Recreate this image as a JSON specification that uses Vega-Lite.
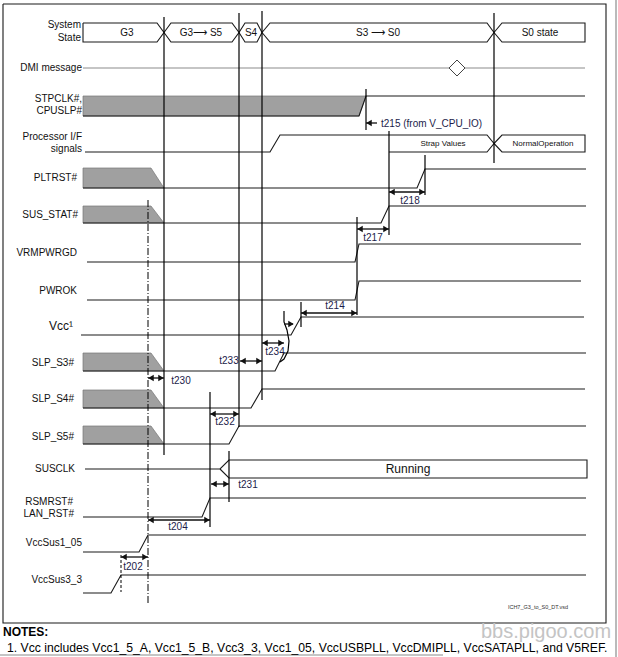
{
  "$schema": "https://vega.github.io/schema/vega-lite/v6.json",
  "width": 618,
  "height": 657,
  "padding": 0,
  "autosize": {"type": "none"},
  "background": "white",
  "config": {"view": {"stroke": null}, "font": "Liberation Sans"},
  "datasets": {
    "waves": [
      {"s": "G3", "o": 1, "x": 83, "y": 23}, {"s": "G3", "o": 2, "x": 157, "y": 23}, {"s": "G3", "o": 3, "x": 164, "y": 32.5}, {"s": "G3", "o": 4, "x": 157, "y": 42}, {"s": "G3", "o": 5, "x": 83, "y": 42}, {"s": "G3", "o": 6, "x": 83, "y": 23},
      {"s": "G3S5", "o": 1, "x": 164, "y": 32.5}, {"s": "G3S5", "o": 2, "x": 171, "y": 23}, {"s": "G3S5", "o": 3, "x": 232, "y": 23}, {"s": "G3S5", "o": 4, "x": 239, "y": 32.5}, {"s": "G3S5", "o": 5, "x": 232, "y": 42}, {"s": "G3S5", "o": 6, "x": 171, "y": 42}, {"s": "G3S5", "o": 7, "x": 164, "y": 32.5},
      {"s": "S4", "o": 1, "x": 239, "y": 32.5}, {"s": "S4", "o": 2, "x": 245, "y": 23}, {"s": "S4", "o": 3, "x": 257, "y": 23}, {"s": "S4", "o": 4, "x": 262, "y": 32.5}, {"s": "S4", "o": 5, "x": 257, "y": 42}, {"s": "S4", "o": 6, "x": 245, "y": 42}, {"s": "S4", "o": 7, "x": 239, "y": 32.5},
      {"s": "S3S0", "o": 1, "x": 262, "y": 32.5}, {"s": "S3S0", "o": 2, "x": 270, "y": 23}, {"s": "S3S0", "o": 3, "x": 487, "y": 23}, {"s": "S3S0", "o": 4, "x": 494, "y": 32.5}, {"s": "S3S0", "o": 5, "x": 487, "y": 42}, {"s": "S3S0", "o": 6, "x": 270, "y": 42}, {"s": "S3S0", "o": 7, "x": 262, "y": 32.5},
      {"s": "S0", "o": 1, "x": 494, "y": 32.5}, {"s": "S0", "o": 2, "x": 502, "y": 23}, {"s": "S0", "o": 3, "x": 585, "y": 23}, {"s": "S0", "o": 4, "x": 585, "y": 42}, {"s": "S0", "o": 5, "x": 502, "y": 42}, {"s": "S0", "o": 6, "x": 494, "y": 32.5},
      {"s": "STP", "o": 1, "x": 83, "y": 116}, {"s": "STP", "o": 2, "x": 359, "y": 116}, {"s": "STP", "o": 3, "x": 366, "y": 96}, {"s": "STP", "o": 4, "x": 585, "y": 96},
      {"s": "PIF", "o": 1, "x": 85, "y": 152}, {"s": "PIF", "o": 2, "x": 270, "y": 152}, {"s": "PIF", "o": 3, "x": 280, "y": 135}, {"s": "PIF", "o": 4, "x": 389, "y": 135},
      {"s": "STRAP", "o": 1, "x": 389, "y": 135}, {"s": "STRAP", "o": 2, "x": 487, "y": 135}, {"s": "STRAP", "o": 3, "x": 494, "y": 143.5}, {"s": "STRAP", "o": 4, "x": 487, "y": 152}, {"s": "STRAP", "o": 5, "x": 389, "y": 152},
      {"s": "NORM", "o": 1, "x": 494, "y": 143.5}, {"s": "NORM", "o": 2, "x": 502, "y": 135}, {"s": "NORM", "o": 3, "x": 585, "y": 135}, {"s": "NORM", "o": 4, "x": 585, "y": 152}, {"s": "NORM", "o": 5, "x": 502, "y": 152}, {"s": "NORM", "o": 6, "x": 494, "y": 143.5},
      {"s": "PLT", "o": 1, "x": 83, "y": 188}, {"s": "PLT", "o": 2, "x": 417, "y": 188}, {"s": "PLT", "o": 3, "x": 425, "y": 169}, {"s": "PLT", "o": 4, "x": 586, "y": 169},
      {"s": "SUS", "o": 1, "x": 83, "y": 223}, {"s": "SUS", "o": 2, "x": 381, "y": 223}, {"s": "SUS", "o": 3, "x": 389, "y": 206}, {"s": "SUS", "o": 4, "x": 586, "y": 206},
      {"s": "VRM", "o": 1, "x": 87, "y": 262}, {"s": "VRM", "o": 2, "x": 355, "y": 262}, {"s": "VRM", "o": 3, "x": 359, "y": 244}, {"s": "VRM", "o": 4, "x": 581, "y": 244},
      {"s": "PWR", "o": 1, "x": 87, "y": 300}, {"s": "PWR", "o": 2, "x": 355, "y": 300}, {"s": "PWR", "o": 3, "x": 359, "y": 281}, {"s": "PWR", "o": 4, "x": 581, "y": 281},
      {"s": "VCC", "o": 1, "x": 81, "y": 335}, {"s": "VCC", "o": 2, "x": 291, "y": 335}, {"s": "VCC", "o": 3, "x": 301, "y": 317}, {"s": "VCC", "o": 4, "x": 584, "y": 317},
      {"s": "SS3", "o": 1, "x": 83, "y": 371}, {"s": "SS3", "o": 2, "x": 275, "y": 371}, {"s": "SS3", "o": 3, "x": 284, "y": 353}, {"s": "SS3", "o": 4, "x": 586, "y": 353},
      {"s": "SS4", "o": 1, "x": 83, "y": 408}, {"s": "SS4", "o": 2, "x": 251, "y": 408}, {"s": "SS4", "o": 3, "x": 262, "y": 389}, {"s": "SS4", "o": 4, "x": 585, "y": 389},
      {"s": "SS5", "o": 1, "x": 83, "y": 444}, {"s": "SS5", "o": 2, "x": 229, "y": 444}, {"s": "SS5", "o": 3, "x": 239, "y": 426}, {"s": "SS5", "o": 4, "x": 586, "y": 426},
      {"s": "CLK", "o": 1, "x": 85, "y": 469}, {"s": "CLK", "o": 2, "x": 220, "y": 469}, {"s": "CLK", "o": 3, "x": 229, "y": 460}, {"s": "CLK", "o": 4, "x": 587, "y": 460}, {"s": "CLK", "o": 5, "x": 587, "y": 478}, {"s": "CLK", "o": 6, "x": 229, "y": 478}, {"s": "CLK", "o": 7, "x": 220, "y": 469},
      {"s": "RSM", "o": 1, "x": 83, "y": 517}, {"s": "RSM", "o": 2, "x": 202, "y": 517}, {"s": "RSM", "o": 3, "x": 210, "y": 498}, {"s": "RSM", "o": 4, "x": 586, "y": 498},
      {"s": "V105", "o": 1, "x": 83, "y": 552}, {"s": "V105", "o": 2, "x": 139, "y": 552}, {"s": "V105", "o": 3, "x": 148, "y": 535}, {"s": "V105", "o": 4, "x": 586, "y": 535},
      {"s": "V33", "o": 1, "x": 83, "y": 593}, {"s": "V33", "o": 2, "x": 111, "y": 593}, {"s": "V33", "o": 3, "x": 121, "y": 575}, {"s": "V33", "o": 4, "x": 586, "y": 575},
      {"s": "FRAME", "o": 1, "x": 3, "y": 4}, {"s": "FRAME", "o": 2, "x": 606, "y": 4}, {"s": "FRAME", "o": 3, "x": 606, "y": 623}, {"s": "FRAME", "o": 4, "x": 3, "y": 623}, {"s": "FRAME", "o": 5, "x": 3, "y": 4}
    ],
    "fills": [
      {"s": "STP", "x": 83, "y": 96, "y2": 116}, {"s": "STP", "x": 359, "y": 96, "y2": 116}, {"s": "STP", "x": 366, "y": 96, "y2": 96},
      {"s": "PLT", "x": 83, "y": 168, "y2": 188}, {"s": "PLT", "x": 151, "y": 168, "y2": 188}, {"s": "PLT", "x": 164, "y": 188, "y2": 188},
      {"s": "SUS", "x": 83, "y": 206, "y2": 223}, {"s": "SUS", "x": 151, "y": 206, "y2": 223}, {"s": "SUS", "x": 164, "y": 223, "y2": 223},
      {"s": "SS3", "x": 83, "y": 353, "y2": 371}, {"s": "SS3", "x": 151, "y": 353, "y2": 371}, {"s": "SS3", "x": 164, "y": 371, "y2": 371},
      {"s": "SS4", "x": 83, "y": 390, "y2": 408}, {"s": "SS4", "x": 151, "y": 390, "y2": 408}, {"s": "SS4", "x": 164, "y": 408, "y2": 408},
      {"s": "SS5", "x": 83, "y": 426, "y2": 444}, {"s": "SS5", "x": 151, "y": 426, "y2": 444}, {"s": "SS5", "x": 164, "y": 444, "y2": 444}
    ],
    "greys": [
      {"s": "DMI", "o": 1, "x": 83, "y": 68}, {"s": "DMI", "o": 2, "x": 585, "y": 68},
      {"s": "EDGE", "o": 1, "x": 616, "y": 0}, {"s": "EDGE", "o": 2, "x": 616, "y": 657},
      {"s": "BASE", "o": 1, "x": 0, "y": 655}, {"s": "BASE", "o": 2, "x": 443, "y": 655}
    ],
    "guides": [
      {"g": "a", "o": 1, "x": 164, "y": 17}, {"g": "a", "o": 2, "x": 164, "y": 455},
      {"g": "b", "o": 1, "x": 239, "y": 13}, {"g": "b", "o": 2, "x": 239, "y": 427},
      {"g": "c", "o": 1, "x": 262, "y": 11}, {"g": "c", "o": 2, "x": 262, "y": 400},
      {"g": "d", "o": 1, "x": 494, "y": 13}, {"g": "d", "o": 2, "x": 494, "y": 163},
      {"g": "e", "o": 1, "x": 366, "y": 89}, {"g": "e", "o": 2, "x": 366, "y": 130},
      {"g": "f", "o": 1, "x": 389, "y": 131}, {"g": "f", "o": 2, "x": 389, "y": 235},
      {"g": "h", "o": 1, "x": 425, "y": 155}, {"g": "h", "o": 2, "x": 425, "y": 195},
      {"g": "i", "o": 1, "x": 357, "y": 217}, {"g": "i", "o": 2, "x": 357, "y": 315},
      {"g": "j", "o": 1, "x": 301, "y": 302}, {"g": "j", "o": 2, "x": 301, "y": 327},
      {"g": "k", "o": 1, "x": 210, "y": 392}, {"g": "k", "o": 2, "x": 210, "y": 527},
      {"g": "l", "o": 1, "x": 229, "y": 451}, {"g": "l", "o": 2, "x": 229, "y": 502},
      {"g": "m", "o": 1, "x": 284, "y": 311}, {"g": "m", "o": 2, "x": 284, "y": 322}, {"g": "m", "o": 3, "x": 287, "y": 330}, {"g": "m", "o": 4, "x": 289, "y": 341}, {"g": "m", "o": 5, "x": 288, "y": 351}, {"g": "m", "o": 6, "x": 284, "y": 359}, {"g": "m", "o": 7, "x": 280, "y": 362}
    ],
    "dashdot": [
      {"g": "dd", "o": 1, "x": 148, "y": 200}, {"g": "dd", "o": 2, "x": 148, "y": 604}
    ],
    "dashed": [
      {"g": "ds", "o": 1, "x": 121, "y": 555}, {"g": "ds", "o": 2, "x": 121, "y": 592}
    ],
    "shafts": [
      {"a": "t218", "x": 389, "y": 192}, {"a": "t218", "x": 425, "y": 192},
      {"a": "t217", "x": 357, "y": 229}, {"a": "t217", "x": 389, "y": 229},
      {"a": "t214", "x": 301, "y": 313}, {"a": "t214", "x": 357, "y": 313},
      {"a": "t234", "x": 262, "y": 343}, {"a": "t234", "x": 284, "y": 343},
      {"a": "t233", "x": 240, "y": 361}, {"a": "t233", "x": 262, "y": 361},
      {"a": "t230", "x": 148, "y": 378}, {"a": "t230", "x": 164, "y": 378},
      {"a": "t232", "x": 210, "y": 414}, {"a": "t232", "x": 239, "y": 414},
      {"a": "t231", "x": 211, "y": 484}, {"a": "t231", "x": 229, "y": 484},
      {"a": "t204", "x": 148, "y": 520}, {"a": "t204", "x": 210, "y": 520},
      {"a": "t202", "x": 121, "y": 557}, {"a": "t202", "x": 148, "y": 557},
      {"a": "t215", "x": 366, "y": 123}, {"a": "t215", "x": 377, "y": 123},
      {"a": "vcc", "x": 284, "y": 324}, {"a": "vcc", "x": 293, "y": 324}
    ],
    "heads": [
      {"x": 392, "y": 192, "dir": "L"}, {"x": 422, "y": 192, "dir": "R"},
      {"x": 360, "y": 229, "dir": "L"}, {"x": 386, "y": 229, "dir": "R"},
      {"x": 304, "y": 313, "dir": "L"}, {"x": 354, "y": 313, "dir": "R"},
      {"x": 265, "y": 343, "dir": "L"}, {"x": 281, "y": 343, "dir": "R"},
      {"x": 243, "y": 361, "dir": "L"}, {"x": 259, "y": 361, "dir": "R"},
      {"x": 151, "y": 378, "dir": "L"}, {"x": 161, "y": 378, "dir": "R"},
      {"x": 213, "y": 414, "dir": "L"}, {"x": 236, "y": 414, "dir": "R"},
      {"x": 214, "y": 484, "dir": "L"}, {"x": 226, "y": 484, "dir": "R"},
      {"x": 151, "y": 520, "dir": "L"}, {"x": 207, "y": 520, "dir": "R"},
      {"x": 124, "y": 557, "dir": "L"}, {"x": 145, "y": 557, "dir": "R"},
      {"x": 369, "y": 123, "dir": "L"},
      {"x": 291, "y": 324, "dir": "R"}
    ],
    "marks": [
      {"x": 457, "y": 68}
    ],
    "texts": [
      {"k": "sig", "x": 81, "y": 25, "t": "System"},
      {"k": "sig", "x": 81, "y": 38, "t": "State"},
      {"k": "sig", "x": 82, "y": 68, "t": "DMI message"},
      {"k": "sig", "x": 82, "y": 99, "t": "STPCLK#,"},
      {"k": "sig", "x": 82, "y": 111, "t": "CPUSLP#"},
      {"k": "sig", "x": 82, "y": 137, "t": "Processor I/F"},
      {"k": "sig", "x": 82, "y": 149, "t": "signals"},
      {"k": "sig", "x": 77, "y": 178, "t": "PLTRST#"},
      {"k": "sig", "x": 78, "y": 215, "t": "SUS_STAT#"},
      {"k": "sig", "x": 77, "y": 253, "t": "VRMPWRGD"},
      {"k": "sig", "x": 77, "y": 291, "t": "PWROK"},
      {"k": "sig", "x": 74, "y": 363, "t": "SLP_S3#"},
      {"k": "sig", "x": 74, "y": 399, "t": "SLP_S4#"},
      {"k": "sig", "x": 74, "y": 437, "t": "SLP_S5#"},
      {"k": "sig", "x": 75, "y": 469, "t": "SUSCLK"},
      {"k": "sig", "x": 73, "y": 502, "t": "RSMRST#"},
      {"k": "sig", "x": 74, "y": 514, "t": "LAN_RST#"},
      {"k": "sig", "x": 82, "y": 543, "t": "VccSus1_05"},
      {"k": "sig", "x": 82, "y": 580, "t": "VccSus3_3"},
      {"k": "big", "x": 73, "y": 326, "t": "Vcc¹"},
      {"k": "state", "x": 127, "y": 32.5, "t": "G3"},
      {"k": "state", "x": 201, "y": 32.5, "t": "G3⟶ S5"},
      {"k": "state", "x": 251, "y": 32.5, "t": "S4"},
      {"k": "state", "x": 378, "y": 32.5, "t": "S3 ⟶ S0"},
      {"k": "state", "x": 540, "y": 32.5, "t": "S0 state"},
      {"k": "small", "x": 443, "y": 143.5, "t": "Strap Values"},
      {"k": "small", "x": 543, "y": 143.5, "t": "NormalOperation"},
      {"k": "run", "x": 408, "y": 469, "t": "Running"},
      {"k": "timl", "x": 381, "y": 124, "t": "t215 (from V_CPU_IO)"},
      {"k": "tim", "x": 410, "y": 201, "t": "t218"},
      {"k": "tim", "x": 373, "y": 238, "t": "t217"},
      {"k": "tim", "x": 335, "y": 306, "t": "t214"},
      {"k": "tim", "x": 275, "y": 352, "t": "t234"},
      {"k": "tim", "x": 229, "y": 361, "t": "t233"},
      {"k": "tim", "x": 181, "y": 381, "t": "t230"},
      {"k": "tim", "x": 225, "y": 422, "t": "t232"},
      {"k": "tim", "x": 248, "y": 485, "t": "t231"},
      {"k": "tim", "x": 178, "y": 527, "t": "t204"},
      {"k": "tim", "x": 133, "y": 567, "t": "t202"},
      {"k": "file", "x": 538, "y": 607, "t": "ICH7_G3_to_S0_DT.vsd"},
      {"k": "wm", "x": 546, "y": 632, "t": "bbs.pigoo.com"},
      {"k": "noteh", "x": 3, "y": 632, "t": "NOTES:"},
      {"k": "note", "x": 7, "y": 648, "t": "1. Vcc includes Vcc1_5_A, Vcc1_5_B, Vcc3_3, Vcc1_05, VccUSBPLL, VccDMIPLL, VccSATAPLL, and V5REF."}
    ]
  },
  "encoding": {
    "x": {"field": "x", "type": "quantitative", "axis": null, "scale": {"domain": [0, 618], "nice": false, "zero": false}},
    "y": {"field": "y", "type": "quantitative", "axis": null, "scale": {"domain": [0, 657], "reverse": true, "nice": false, "zero": false}}
  },
  "layer": [
    {
      "data": {"name": "greys"},
      "mark": {"type": "line", "color": "#8c8c8c", "strokeWidth": 1.2},
      "encoding": {"detail": {"field": "s"}, "order": {"field": "o", "type": "quantitative"}}
    },
    {
      "data": {"name": "fills"},
      "mark": {"type": "area", "orient": "vertical", "color": "#a0a0a0", "stroke": "#777777", "strokeWidth": 0.7},
      "encoding": {"y2": {"field": "y2"}, "detail": {"field": "s"}}
    },
    {
      "data": {"name": "waves"},
      "mark": {"type": "line", "color": "#1a1a1a", "strokeWidth": 1.1},
      "encoding": {"detail": {"field": "s"}, "order": {"field": "o", "type": "quantitative"}}
    },
    {
      "data": {"name": "guides"},
      "mark": {"type": "line", "color": "#000000", "strokeWidth": 1.2},
      "encoding": {"detail": {"field": "g"}, "order": {"field": "o", "type": "quantitative"}}
    },
    {
      "data": {"name": "dashdot"},
      "mark": {"type": "line", "color": "#000000", "strokeWidth": 1, "strokeDash": [7, 2, 1, 2]},
      "encoding": {"detail": {"field": "g"}, "order": {"field": "o", "type": "quantitative"}}
    },
    {
      "data": {"name": "dashed"},
      "mark": {"type": "line", "color": "#000000", "strokeWidth": 1, "strokeDash": [3, 2]},
      "encoding": {"detail": {"field": "g"}, "order": {"field": "o", "type": "quantitative"}}
    },
    {
      "data": {"name": "shafts"},
      "mark": {"type": "line", "color": "#111111", "strokeWidth": 1.3},
      "encoding": {"detail": {"field": "a"}}
    },
    {
      "data": {"name": "heads"},
      "mark": {"type": "point", "filled": true, "color": "#111111", "opacity": 1, "size": 40},
      "encoding": {"shape": {"field": "dir", "type": "nominal", "legend": null, "scale": {"domain": ["L", "R"], "range": ["triangle-left", "triangle-right"]}}}
    },
    {
      "data": {"name": "marks"},
      "mark": {"type": "point", "shape": "diamond", "size": 256, "filled": true, "fill": "white", "stroke": "#444444", "strokeWidth": 1, "opacity": 1}
    },
    {
      "data": {"name": "texts"},
      "transform": [{"filter": "datum.k == 'sig'"}],
      "mark": {"type": "text", "align": "right", "baseline": "middle", "fontSize": 10, "color": "#111111"},
      "encoding": {"text": {"field": "t"}}
    },
    {
      "data": {"name": "texts"},
      "transform": [{"filter": "datum.k == 'big'"}],
      "mark": {"type": "text", "align": "right", "baseline": "middle", "fontSize": 12, "color": "#111111"},
      "encoding": {"text": {"field": "t"}}
    },
    {
      "data": {"name": "texts"},
      "transform": [{"filter": "datum.k == 'state'"}],
      "mark": {"type": "text", "align": "center", "baseline": "middle", "fontSize": 10, "color": "#111111"},
      "encoding": {"text": {"field": "t"}}
    },
    {
      "data": {"name": "texts"},
      "transform": [{"filter": "datum.k == 'small'"}],
      "mark": {"type": "text", "align": "center", "baseline": "middle", "fontSize": 8, "color": "#111111"},
      "encoding": {"text": {"field": "t"}}
    },
    {
      "data": {"name": "texts"},
      "transform": [{"filter": "datum.k == 'run'"}],
      "mark": {"type": "text", "align": "center", "baseline": "middle", "fontSize": 12, "color": "#111111"},
      "encoding": {"text": {"field": "t"}}
    },
    {
      "data": {"name": "texts"},
      "transform": [{"filter": "datum.k == 'tim'"}],
      "mark": {"type": "text", "align": "center", "baseline": "middle", "fontSize": 10, "color": "#1c1c4a"},
      "encoding": {"text": {"field": "t"}}
    },
    {
      "data": {"name": "texts"},
      "transform": [{"filter": "datum.k == 'timl'"}],
      "mark": {"type": "text", "align": "left", "baseline": "middle", "fontSize": 10, "color": "#1c1c4a"},
      "encoding": {"text": {"field": "t"}}
    },
    {
      "data": {"name": "texts"},
      "transform": [{"filter": "datum.k == 'file'"}],
      "mark": {"type": "text", "align": "center", "baseline": "middle", "fontSize": 5.5, "color": "#333333"},
      "encoding": {"text": {"field": "t"}}
    },
    {
      "data": {"name": "texts"},
      "transform": [{"filter": "datum.k == 'wm'"}],
      "mark": {"type": "text", "align": "center", "baseline": "middle", "fontSize": 20, "color": "#c4c4c4"},
      "encoding": {"text": {"field": "t"}}
    },
    {
      "data": {"name": "texts"},
      "transform": [{"filter": "datum.k == 'noteh'"}],
      "mark": {"type": "text", "align": "left", "baseline": "middle", "fontSize": 12, "fontWeight": "bold", "color": "#000000"},
      "encoding": {"text": {"field": "t"}}
    },
    {
      "data": {"name": "texts"},
      "transform": [{"filter": "datum.k == 'note'"}],
      "mark": {"type": "text", "align": "left", "baseline": "middle", "fontSize": 12.2, "color": "#000000"},
      "encoding": {"text": {"field": "t"}}
    }
  ]
}
